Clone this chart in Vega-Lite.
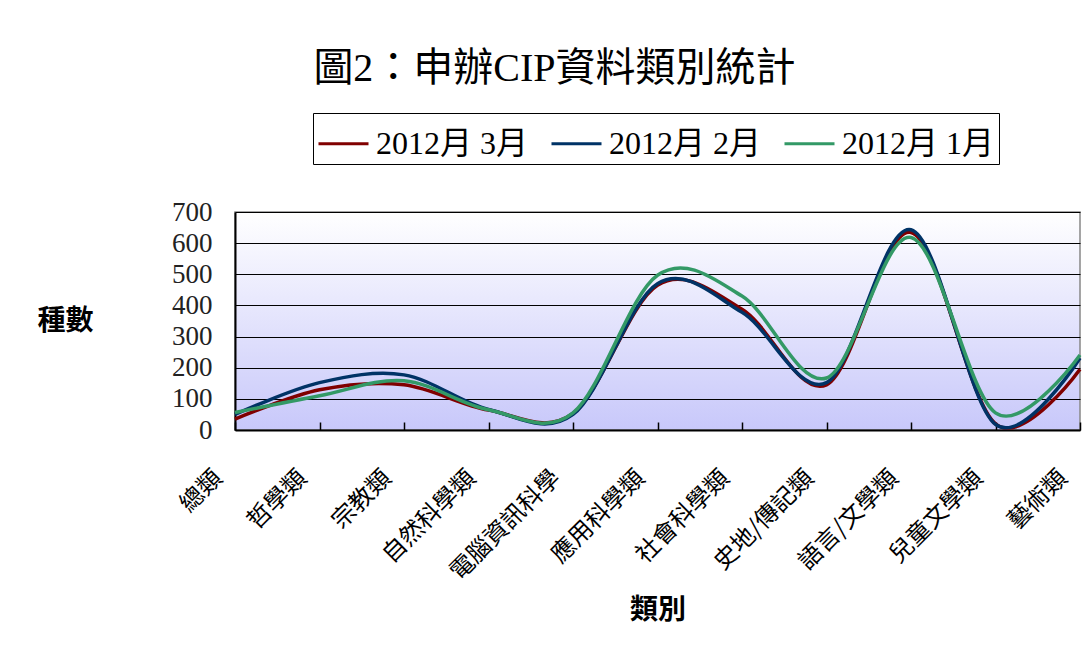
{
  "$schema": "https://vega.github.io/schema/vega-lite/v6.json",
  "autosize": {"type": "none"},
  "width": 845,
  "height": 218,
  "padding": {"left": 235, "top": 212, "right": 3, "bottom": 223},
  "background": "white",
  "title": {
    "text": "圖2：申辦CIP資料類別統計",
    "font": "Liberation Serif, Noto Sans CJK TC",
    "fontSize": 40,
    "fontWeight": "normal",
    "color": "black",
    "anchor": "middle",
    "frame": "group",
    "dx": -103,
    "offset": 24
  },
  "data": {
    "values": [
      {"類別": "總類", "月份": "2012月 3月", "種數": 35},
      {"類別": "哲學類", "月份": "2012月 3月", "種數": 129},
      {"類別": "宗教類", "月份": "2012月 3月", "種數": 145},
      {"類別": "自然科學類", "月份": "2012月 3月", "種數": 64},
      {"類別": "電腦資訊科學", "月份": "2012月 3月", "種數": 53},
      {"類別": "應用科學類", "月份": "2012月 3月", "種數": 465},
      {"類別": "社會科學類", "月份": "2012月 3月", "種數": 388},
      {"類別": "史地/傳記類", "月份": "2012月 3月", "種數": 145},
      {"類別": "語言/文學類", "月份": "2012月 3月", "種數": 634},
      {"類別": "兒童文學類", "月份": "2012月 3月", "種數": 20},
      {"類別": "藝術類", "月份": "2012月 3月", "種數": 195},
      {"類別": "總類", "月份": "2012月 2月", "種數": 50},
      {"類別": "哲學類", "月份": "2012月 2月", "種數": 152},
      {"類別": "宗教類", "月份": "2012月 2月", "種數": 177},
      {"類別": "自然科學類", "月份": "2012月 2月", "種數": 66},
      {"類別": "電腦資訊科學", "月份": "2012月 2月", "種數": 50},
      {"類別": "應用科學類", "月份": "2012月 2月", "種數": 470},
      {"類別": "社會科學類", "月份": "2012月 2月", "種數": 378},
      {"類別": "史地/傳記類", "月份": "2012月 2月", "種數": 152},
      {"類別": "語言/文學類", "月份": "2012月 2月", "種數": 643},
      {"類別": "兒童文學類", "月份": "2012月 2月", "種數": 18},
      {"類別": "藝術類", "月份": "2012月 2月", "種數": 231},
      {"類別": "總類", "月份": "2012月 1月", "種數": 56},
      {"類別": "哲學類", "月份": "2012月 1月", "種數": 110},
      {"類別": "宗教類", "月份": "2012月 1月", "種數": 158},
      {"類別": "自然科學類", "月份": "2012月 1月", "種數": 65},
      {"類別": "電腦資訊科學", "月份": "2012月 1月", "種數": 55},
      {"類別": "應用科學類", "月份": "2012月 1月", "種數": 497},
      {"類別": "社會科學類", "月份": "2012月 1月", "種數": 430},
      {"類別": "史地/傳記類", "月份": "2012月 1月", "種數": 167},
      {"類別": "語言/文學類", "月份": "2012月 1月", "種數": 618},
      {"類別": "兒童文學類", "月份": "2012月 1月", "種數": 55},
      {"類別": "藝術類", "月份": "2012月 1月", "種數": 241}
    ]
  },
  "mark": {"type": "line", "interpolate": "cardinal", "tension": 0, "strokeWidth": 3.5},
  "encoding": {
    "x": {
      "field": "類別",
      "type": "nominal",
      "sort": null,
      "scale": {"type": "point", "padding": 0},
      "axis": {
        "title": "類別",
        "titleFont": "Noto Sans CJK TC",
        "titleFontSize": 28,
        "titleFontWeight": "bold",
        "titleColor": "black",
        "titleY": 180,
        "titleBaseline": "middle",
        "labelFont": "Noto Sans CJK TC",
        "labelFontSize": 24,
        "labelColor": "black",
        "labelAngle": -45,
        "labelAlign": "right",
        "labelBaseline": "middle",
        "labelPadding": 52,
        "labelOffset": -17,
        "labelOverlap": false,
        "labelBound": false,
        "grid": false,
        "domainColor": "black",
        "domainWidth": 2,
        "tickColor": "black",
        "tickSize": -8,
        "tickWidth": 1.5
      }
    },
    "y": {
      "field": "種數",
      "type": "quantitative",
      "scale": {"domain": [0, 700], "nice": false},
      "axis": {
        "title": "種數",
        "titleFont": "Noto Sans CJK TC",
        "titleFontSize": 28,
        "titleFontWeight": "bold",
        "titleColor": "black",
        "titleAngle": 0,
        "titleAlign": "center",
        "titleBaseline": "middle",
        "titleX": -170,
        "titleY": 109,
        "values": [0, 100, 200, 300, 400, 500, 600, 700],
        "labelFont": "Liberation Serif",
        "labelFontSize": 27,
        "labelColor": "#222222",
        "labelPadding": 23,
        "grid": true,
        "gridColor": "black",
        "gridWidth": 1.2,
        "domainColor": "black",
        "domainWidth": 2,
        "ticks": false
      }
    },
    "color": {
      "field": "月份",
      "type": "nominal",
      "sort": ["2012月 3月", "2012月 2月", "2012月 1月"],
      "scale": {
        "domain": ["2012月 3月", "2012月 2月", "2012月 1月"],
        "range": ["#800000", "#003366", "#339966"]
      },
      "legend": {
        "title": null,
        "orient": "none",
        "legendX": 78,
        "legendY": -99,
        "direction": "horizontal",
        "columns": 3,
        "symbolType": "stroke",
        "symbolSize": 2500,
        "symbolStrokeWidth": 3,
        "labelFont": "Liberation Serif, Noto Sans CJK TC",
        "labelFontSize": 32,
        "labelColor": "black",
        "labelOffset": 6,
        "columnPadding": 16,
        "padding": 4,
        "strokeColor": "black",
        "fillColor": "white",
        "cornerRadius": 0
      }
    }
  },
  "config": {
    "view": {
      "stroke": "#888888",
      "strokeWidth": 1.5,
      "fill": {
        "gradient": "linear",
        "x1": 0, "y1": 0, "x2": 0, "y2": 1,
        "stops": [
          {"offset": 0, "color": "#ffffff"},
          {"offset": 1, "color": "#c8c8fa"}
        ]
      }
    }
  }
}
